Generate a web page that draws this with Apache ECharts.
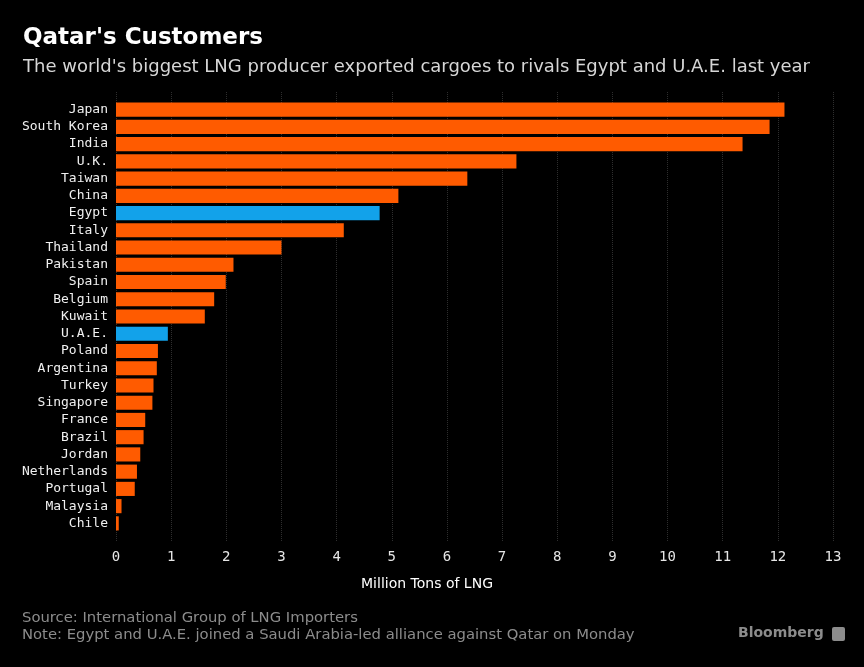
<!DOCTYPE html>
<html>
<head>
<meta charset="utf-8">
<style>
  html, body { margin: 0; padding: 0; background: #000; }
  #chart { width: 864px; height: 667px; }
</style>
<script src="https://cdn.jsdelivr.net/npm/echarts@6/dist/echarts.min.js"></script>
</head>
<body>
<div id="chart"></div>
<script>
// importers of Qatari LNG, top to bottom
var countries = ['Japan', 'South Korea', 'India', 'U.K.', 'Taiwan', 'China', 'Egypt', 'Italy',
  'Thailand', 'Pakistan', 'Spain', 'Belgium', 'Kuwait', 'U.A.E.', 'Poland', 'Argentina',
  'Turkey', 'Singapore', 'France', 'Brazil', 'Jordan', 'Netherlands', 'Portugal', 'Malaysia', 'Chile'];
// million tons of LNG
var tons = [12.12, 11.85, 11.36, 7.26, 6.37, 5.12, 4.78, 4.13,
  3.0, 2.13, 1.99, 1.78, 1.61, 0.94, 0.76, 0.74,
  0.68, 0.66, 0.53, 0.5, 0.44, 0.38, 0.34, 0.1, 0.05];
// the two that joined the Saudi-led alliance
var rivals = ['Egypt', 'U.A.E.'];
var xTicks = [0, 13, 1]; // min, max, interval

var ORANGE = '#ff5b00', BLUE = '#12a2ea';
var mono = '"DejaVu Sans Mono", monospace';
var sans = '"DejaVu Sans", sans-serif';

var barData = countries.map(function (c, i) {
  return { value: tons[i], itemStyle: { color: rivals.indexOf(c) >= 0 ? BLUE : ORANGE } };
});

var myChart = echarts.init(document.getElementById('chart'));
myChart.setOption({
  backgroundColor: '#000',
  animation: false,
  title: [
    { text: "Qatar's Customers", left: 23, top: 27, padding: 0,
      textStyle: { color: '#fff', fontFamily: sans, fontSize: 23, fontWeight: 'bold' } },
    { text: "The world's biggest LNG producer exported cargoes to rivals Egypt and U.A.E. last year",
      left: 23, top: 58, padding: 0,
      textStyle: { color: '#d6d6d6', fontFamily: sans, fontSize: 18, fontWeight: 'normal' } }
  ],
  // grid 0 holds the axis and the dotted lines, grid 1 the bars
  grid: [
    { left: 116, right: 31, top: 92, bottom: 125 },
    { left: 116, right: 31, top: 101, bottom: 135 }
  ],
  xAxis: [
    { type: 'value', gridIndex: 0, min: xTicks[0], max: xTicks[1], interval: xTicks[2],
      axisLine: { show: false }, axisTick: { show: false },
      axisLabel: { color: '#e6e6e6', fontFamily: mono, fontSize: 14, margin: 8 },
      splitLine: { show: true, lineStyle: { color: '#2e2e2e', type: 'dotted', width: 1 } } },
    { type: 'value', gridIndex: 1, min: xTicks[0], max: xTicks[1], interval: xTicks[2],
      axisLine: { show: false }, axisTick: { show: false }, axisLabel: { show: false },
      splitLine: { show: false } }
  ],
  yAxis: [
    { type: 'category', gridIndex: 0, data: [], show: false },
    { type: 'category', gridIndex: 1, data: countries, inverse: true,
      axisLine: { show: false }, axisTick: { show: false },
      axisLabel: { color: '#f0f0f0', fontFamily: mono, fontSize: 13, margin: 8 } }
  ],
  series: [{
    type: 'bar', xAxisIndex: 1, yAxisIndex: 1, data: barData,
    barCategoryGap: '18%'
  }],
  graphic: [
    { type: 'text', x: 427, y: 584,
      style: { text: 'Million Tons of LNG', fill: '#fff', font: '14px "DejaVu Sans", sans-serif',
        textAlign: 'center', textVerticalAlign: 'middle' } },
    { type: 'text', left: 22, top: 610,
      style: { text: 'Source: International Group of LNG Importers\nNote: Egypt and U.A.E. joined a Saudi Arabia-led alliance against Qatar on Monday',
        fill: '#8c8c8c', font: '14.8px "DejaVu Sans", sans-serif', lineHeight: 17 } },
    { type: 'text', left: 738, top: 626,
      style: { text: 'Bloomberg', fill: '#8c8c8c', font: 'bold 14px "DejaVu Sans", sans-serif' } },
    { type: 'rect', left: 832, top: 627, shape: { width: 13, height: 14, r: 2 },
      style: { fill: '#8c8c8c' } }
  ]
});
</script>
</body>
</html>
